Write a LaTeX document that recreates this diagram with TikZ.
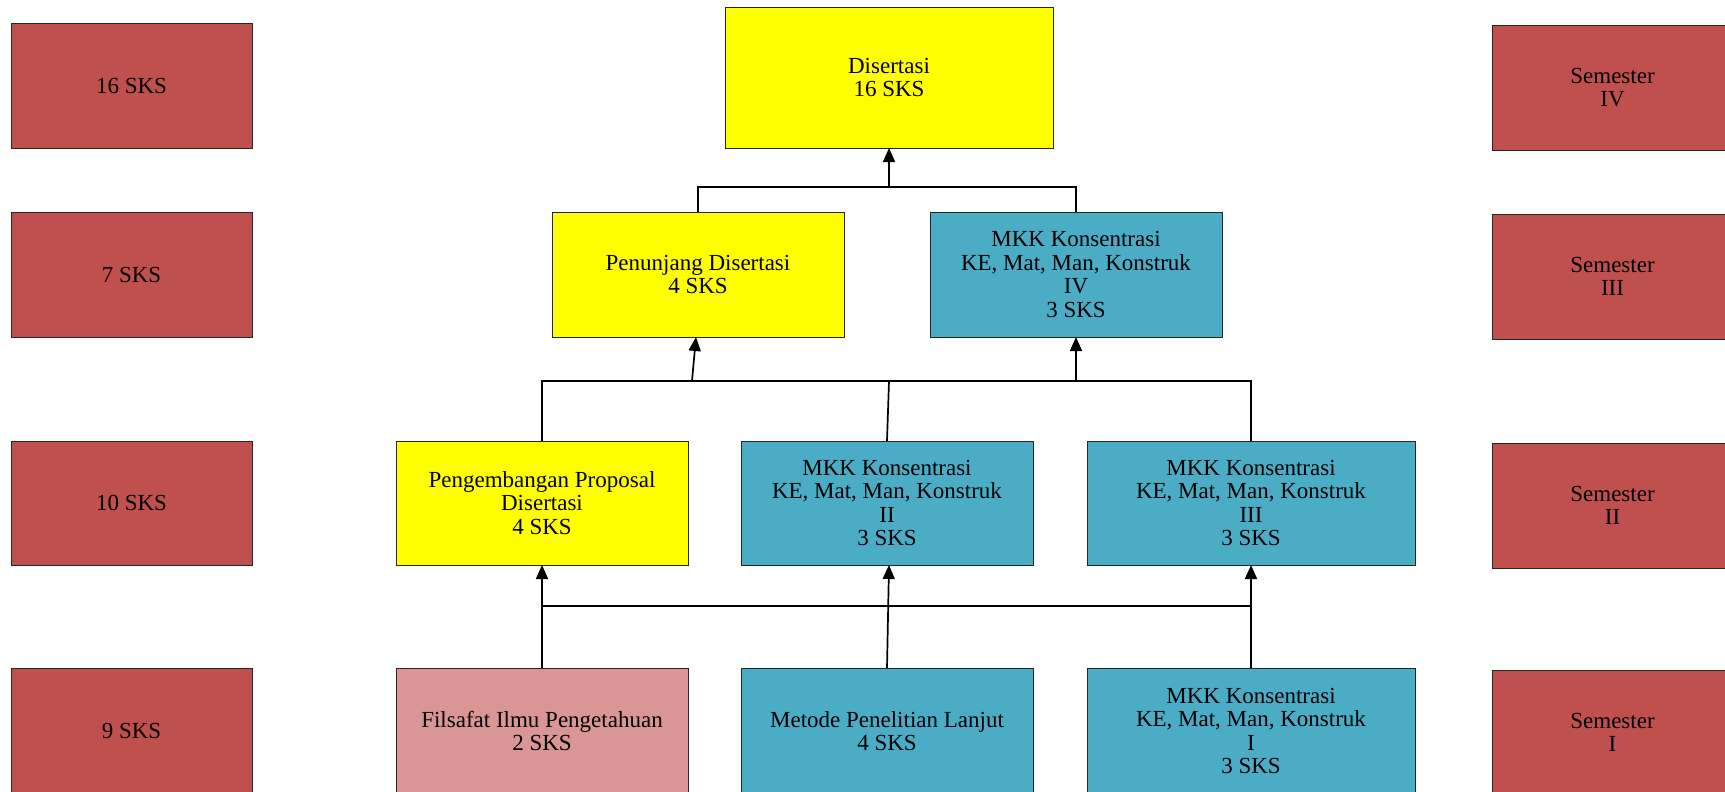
\documentclass[tikz,border=0pt]{standalone}
\usepackage{fontspec}
\setmainfont{Liberation Serif}
\usetikzlibrary{arrows.meta}
\definecolor{semred}{HTML}{C0504D}
\definecolor{boxyellow}{HTML}{FFFF00}
\definecolor{boxblue}{HTML}{4BACC6}
\definecolor{boxpink}{HTML}{D99694}
\tikzset{
  box/.style={draw=black!85, line width=0.9pt, inner sep=0pt, outer sep=0pt, align=center,
    font=\fontsize{23}{23.5}\selectfont, text=black},
  redbox/.style={box, fill=semred, minimum width=241pt},
  ybox/.style={box, fill=boxyellow},
  bbox/.style={box, fill=boxblue},
  pbox/.style={box, fill=boxpink},
  conn/.style={line width=1.7pt, black},
  arr/.style={conn, -{Triangle[length=14pt,width=12pt]}}
}
\begin{document}
\begin{tikzpicture}[x=1pt,y=-1pt]
\useasboundingbox (0,0) rectangle (1725,792);
% left column
\node[redbox, minimum height=125pt] (l1) at (131.5,85.5) {16 SKS};
\node[redbox, minimum height=125pt] (l2) at (131.5,274.5) {7 SKS};
\node[redbox, minimum height=124pt] (l3) at (131.5,503) {10 SKS};
\node[redbox, minimum height=126pt] (l4) at (131.5,731) {9 SKS};
% right column
\node[redbox, minimum height=125pt] (r1) at (1612.5,87.5) {Semester\\IV};
\node[redbox, minimum height=125pt] (r2) at (1612.5,276.5) {Semester\\III};
\node[redbox, minimum height=125pt] (r3) at (1612.5,505.5) {Semester\\II};
\node[redbox, minimum height=125pt] (r4) at (1612.5,732.5) {Semester\\I};
% central tree
\node[ybox, minimum width=328pt, minimum height=141pt] (dis) at (889,77.5) {Disertasi\\16 SKS};
\node[ybox, minimum width=292pt, minimum height=125pt] (pen) at (698,274.5) {Penunjang Disertasi\\4 SKS};
\node[bbox, minimum width=292pt, minimum height=125pt] (m4) at (1076,274.5) {MKK Konsentrasi\\KE, Mat, Man, Konstruk\\IV\\3 SKS};
\node[ybox, minimum width=292pt, minimum height=124pt] (peng) at (542,503) {Pengembangan Proposal\\Disertasi\\4 SKS};
\node[bbox, minimum width=292pt, minimum height=124pt] (m2) at (887,503) {MKK Konsentrasi\\KE, Mat, Man, Konstruk\\II\\3 SKS};
\node[bbox, minimum width=328pt, minimum height=124pt] (m3) at (1251,503) {MKK Konsentrasi\\KE, Mat, Man, Konstruk\\III\\3 SKS};
\node[pbox, minimum width=292pt, minimum height=126pt] (fil) at (542,731) {Filsafat Ilmu Pengetahuan\\2 SKS};
\node[bbox, minimum width=292pt, minimum height=126pt] (met) at (887,731) {Metode Penelitian Lanjut\\4 SKS};
\node[bbox, minimum width=328pt, minimum height=126pt] (m1) at (1251,731) {MKK Konsentrasi\\KE, Mat, Man, Konstruk\\I\\3 SKS};
% junction coordinates
\coordinate (h1) at (0,187);
\coordinate (h2) at (0,381);
\coordinate (h3) at (0,606);
\coordinate (a2) at (692,381);
% semester III -> IV
\draw[conn] (pen.north) -- (pen.north |- h1) -- (m4.north |- h1) -- (m4.north);
\draw[arr] (dis.south |- h1) -- (dis.south);
% semester II -> III
\draw[conn] (peng.north) -- (peng.north |- h2) -- (m3.north |- h2) -- (m3.north);
\draw[conn] (m2.north) -- ([xshift=2pt]m2.north |- h2);
\draw[arr] (a2) -- ([xshift=-2pt]pen.south);
\draw[arr] (m4.south |- h2) -- (m4.south);
% semester I -> II
\draw[conn] (fil.north |- h3) -- (m1.north |- h3);
\draw[arr] (fil.north) -- (peng.south);
\draw[arr] (met.north) -- ([xshift=2pt]m2.south);
\draw[arr] (m1.north) -- (m3.south);
\end{tikzpicture}
\end{document}
